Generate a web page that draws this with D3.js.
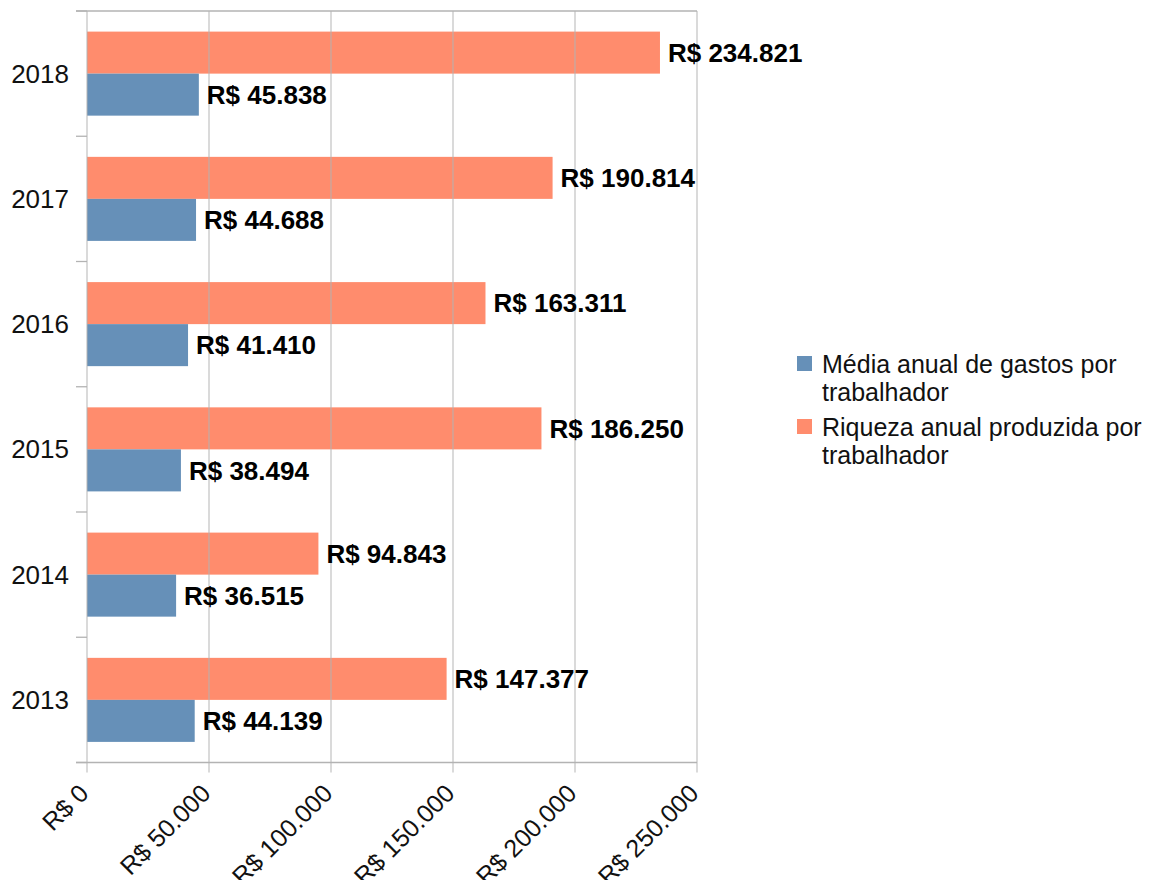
<!DOCTYPE html>
<html>
<head>
<meta charset="utf-8">
<script src="https://cdn.jsdelivr.net/npm/d3@7"></script>
<style>
  html, body { margin: 0; padding: 0; background: #fff; }
  text { font-family: "Liberation Sans", Arial, sans-serif; }
</style>
</head>
<body>
<svg id="viz" width="1152" height="880"></svg>
<script>
// Data

var years = ["2013", "2014", "2015", "2016", "2017", "2018"];
var gastos = [44139, 36515, 38494, 41410, 44688, 45838];      // Média anual de gastos por trabalhador
var riqueza = [147377, 94843, 186250, 163311, 190814, 234821]; // Riqueza anual produzida por trabalhador
var xTicks = [0, 50000, 100000, 150000, 200000, 250000];
var seriesNames = ["Média anual de gastos por trabalhador", "Riqueza anual produzida por trabalhador"];
var legendLines = [["Média anual de gastos por", "trabalhador"], ["Riqueza anual produzida por", "trabalhador"]];
var colors = { gastos: "#6690b8", riqueza: "#ff8c6d" };

var rows = years.map((y, i) => ({ year: y, gastos: gastos[i], riqueza: riqueza[i] }));

// Brazilian currency format

var br = d3.formatLocale({ decimal: ",", thousands: ".", grouping: [3], currency: ["R$ ", ""] });
var fmt = br.format("$,.0f");

var svg = d3.select("#viz");

var plotLeft = 87, plotRight = 697, plotTop = 11, plotBottom = 762.5;

var x = d3.scaleLinear().domain([0, 250000]).range([plotLeft, plotRight]);

var y = d3.scaleBand()
    .domain(years.slice().reverse())
    .range([plotTop, plotBottom])
    .paddingInner(0.329)
    .paddingOuter(0.1645);

var ySub = d3.scaleBand()
    .domain(["riqueza", "gastos"])
    .range([0, y.bandwidth()]);

var gridColor = "#b3b3b3";

// Bars

var bars = svg.append("g");

rows.forEach(function(d) {
    ["riqueza", "gastos"].forEach(function(k) {
        bars.append("rect")
            .attr("x", x(0))
            .attr("y", y(d.year) + ySub(k))
            .attr("width", x(d[k]) - x(0))
            .attr("height", ySub.bandwidth())
            .attr("fill", colors[k]);
    });
});

// Gridlines (drawn over the bars, a bit see-through)

svg.append("g")
    .selectAll("line")
    .data(xTicks)
    .enter().append("line")
      .attr("x1", d => x(d)).attr("x2", d => x(d))
      .attr("y1", plotTop).attr("y2", plotBottom + 10)
      .style("stroke", gridColor)
      .style("stroke-opacity", 0.75)
      .attr("stroke-width", 1.3);

// top border + bottom axis line

svg.append("line")
    .attr("x1", plotLeft - 11).attr("x2", plotRight)
    .attr("y1", plotTop).attr("y2", plotTop)
    .style("stroke", gridColor).attr("stroke-width", 1.3);

svg.append("line")
    .attr("x1", plotLeft - 11).attr("x2", plotRight)
    .attr("y1", plotBottom).attr("y2", plotBottom)
    .style("stroke", gridColor).attr("stroke-width", 1.3);

// Category axis: ticks on band boundaries

var bounds = d3.range(years.length + 1).map(i => plotTop + i * y.step());

svg.append("g")
    .selectAll("line")
    .data(bounds)
    .enter().append("line")
      .attr("x1", plotLeft - 11).attr("x2", plotLeft)
      .attr("y1", d => d).attr("y2", d => d)
      .style("stroke", gridColor).attr("stroke-width", 1.3);

svg.append("g")
    .selectAll("text")
    .data(years)
    .enter().append("text")
      .attr("x", 69)
      .attr("y", d => y(d) + y.bandwidth() / 2)
      .attr("dy", "0.35em")
      .attr("text-anchor", "end")
      .attr("font-size", 26)
      .attr("fill", "#111")
      .text(d => d);

// Value axis labels (rotated)

svg.append("g")
    .selectAll("text")
    .data(xTicks)
    .enter().append("text")
      .attr("transform", d => "translate(" + (x(d) + 3) + ",795) rotate(-45)")
      .attr("text-anchor", "end")
      .attr("font-size", 25)
      .attr("fill", "#111")
      .text(d => fmt(d));

// Value labels

rows.forEach(function(d) {
    ["riqueza", "gastos"].forEach(function(k) {
        svg.append("text")
            .attr("x", x(d[k]) + 8)
            .attr("y", y(d.year) + ySub(k) + ySub.bandwidth() / 2)
            .attr("dy", "0.36em")
            .attr("font-size", 26)
            .attr("font-weight", "bold")
            .attr("fill", "#000")
            .text(fmt(d[k]));
    });
});

// Legend

var legend = svg.append("g");
var legendKeys = ["gastos", "riqueza"];

legendKeys.forEach(function(k, i) {
    var y0 = 356 + i * 63;
    legend.append("rect")
        .attr("x", 797).attr("y", y0)
        .attr("width", 15).attr("height", 15)
        .attr("fill", colors[k])
        .append("title").text(seriesNames[i]);
    legend.append("text")
        .attr("x", 822)
        .attr("y", y0 + 17)
        .attr("font-size", 25)
        .attr("fill", "#111")
        .selectAll("tspan")
        .data(legendLines[i])
        .enter().append("tspan")
          .attr("x", 822)
          .attr("dy", (t, j) => j ? 28 : 0)
          .text(t => t);
});
</script>
</body>
</html>
